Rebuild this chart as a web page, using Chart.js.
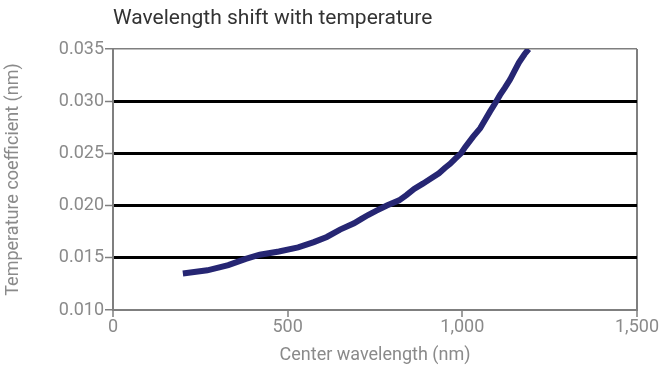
<!DOCTYPE html>
<html>
<head>
<meta charset="utf-8">
<script src="https://cdn.jsdelivr.net/npm/chart.js@4"></script>
<style>
  html, body { margin: 0; padding: 0; background: #fff; }
  #c { display: block; }
</style>
</head>
<body>
<canvas id="c" width="661" height="374"></canvas>
<script>
const chartTitle = "Wavelength shift with temperature";
const xAxisTitle = "Center wavelength (nm)";
const yAxisTitle = "Temperature coefficient (nm)";

const wavelengths = [200, 270, 330, 380, 420, 475, 530, 575, 612, 650, 690, 710, 730, 753, 784, 819, 840, 862, 887, 910, 933, 950, 965, 980, 996, 1008, 1031, 1051, 1065, 1079, 1094, 1108, 1122, 1137, 1148, 1162, 1178, 1190];
const coefficients = [0.0135, 0.0138, 0.0143, 0.0149, 0.0153, 0.0156, 0.0160, 0.0165, 0.0170, 0.0177, 0.0183, 0.0187, 0.0191, 0.0195, 0.0200, 0.0205, 0.0210, 0.0216, 0.0221, 0.0226, 0.0231, 0.0236, 0.0240, 0.0245, 0.0250, 0.0256, 0.0266, 0.0274, 0.0282, 0.0290, 0.0298, 0.0306, 0.0313, 0.0321, 0.0328, 0.0337, 0.0345, 0.0350];

const xTicks = [0, 500, 1000, 1500];
const yTicks = [0.010, 0.015, 0.020, 0.025, 0.030, 0.035];

const points = wavelengths.map((w, i) => ({ x: w, y: coefficients[i] }));
const FONT = "Roboto";
const AXIS_GRAY = "#7f7f7f";
const LABEL_GRAY = "#8a8a8a";

const titlePlugin = {
  id: 'leftTitle',
  afterDraw(chart) {
    const ctx = chart.ctx;
    ctx.save();
    ctx.font = "21px " + FONT;
    ctx.fillStyle = "#333333";
    ctx.textBaseline = "alphabetic";
    ctx.textAlign = "left";
    ctx.fillText(chartTitle, chart.chartArea.left, 24);
    ctx.restore();
  }
};

new Chart(document.getElementById('c'), {
  type: 'line',
  data: {
    datasets: [{
      data: points,
      borderColor: '#262673',
      backgroundColor: '#262673',
      borderWidth: 6,
      pointRadius: 0,
      tension: 0,
      fill: false
    }]
  },
  options: {
    responsive: false,
    animation: false,
    layout: { padding: { top: 49, right: 24, bottom: 0, left: 0 } },
    plugins: { legend: { display: false }, title: { display: false }, tooltip: { enabled: false } },
    scales: {
      x: {
        type: 'linear',
        min: xTicks[0],
        max: xTicks[xTicks.length - 1],
        afterBuildTicks(scale) { scale.ticks = xTicks.map(v => ({ value: v })); },
        afterFit(scale) { scale.height = 64; },
        ticks: {
          color: LABEL_GRAY,
          font: { family: FONT, size: 18 },
          padding: 0,
          maxRotation: 0,
          callback: v => v.toLocaleString('en-US')
        },
        grid: {
          color: ctx => (ctx.tick && ctx.tick.value === 1500) ? AXIS_GRAY : 'rgba(0,0,0,0)',
          lineWidth: 2,
          tickColor: AXIS_GRAY,
          tickWidth: 1.5,
          tickLength: 7
        },
        border: { color: AXIS_GRAY, width: 2 },
        title: {
          display: true,
          text: xAxisTitle,
          color: LABEL_GRAY,
          font: { family: FONT, size: 18 },
          padding: { top: 0, bottom: 8 }
        }
      },
      y: {
        min: yTicks[0],
        max: yTicks[yTicks.length - 1],
        afterBuildTicks(scale) { scale.ticks = yTicks.map(v => ({ value: v })); },
        afterFit(scale) { scale.width = 113; },
        ticks: {
          color: LABEL_GRAY,
          font: { family: FONT, size: 18 },
          padding: 1,
          callback: v => Number(v).toFixed(3)
        },
        grid: {
          color: ctx => {
            const v = ctx.tick ? ctx.tick.value : 0;
            if (v > 0.0125 && v < 0.0325) return '#000000';
            if (v > 0.0325) return AXIS_GRAY;
            return 'rgba(0,0,0,0)';
          },
          lineWidth: ctx => {
            const v = ctx.tick ? ctx.tick.value : 0;
            return (v > 0.0125 && v < 0.0325) ? 3 : 1.5;
          },
          tickColor: AXIS_GRAY,
          tickWidth: 1.5,
          tickLength: 8
        },
        border: { color: AXIS_GRAY, width: 2 },
        title: {
          display: true,
          text: yAxisTitle,
          color: LABEL_GRAY,
          font: { family: FONT, size: 18 },
          padding: { top: 3, bottom: 0 }
        }
      }
    }
  },
  plugins: [titlePlugin]
});
</script>
</body>
</html>
